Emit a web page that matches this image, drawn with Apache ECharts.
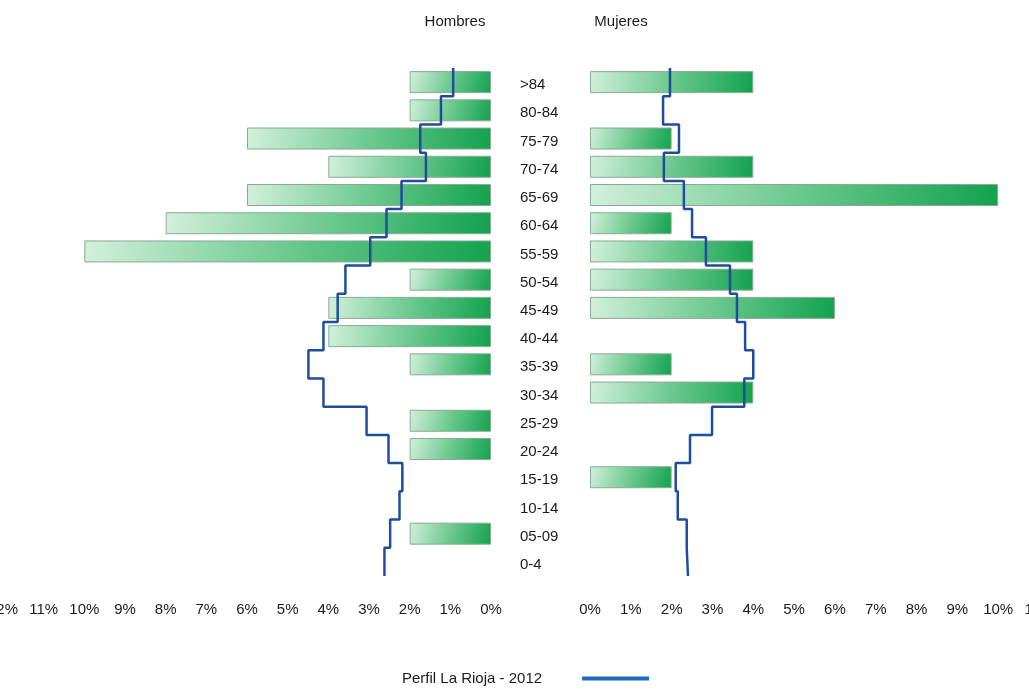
<!DOCTYPE html>
<html>
<head>
<meta charset="utf-8">
<script src="https://cdn.jsdelivr.net/npm/echarts@6/dist/echarts.min.js"></script>
<style>
html,body{margin:0;padding:0;background:#fff;}
#chart{width:1029px;height:691px;}
</style>
</head>
<body>
<div id="chart"></div>
<script>
const categories = ['>84','80-84','75-79','70-74','65-69','60-64','55-59','50-54','45-49','40-44','35-39','30-34','25-29','20-24','15-19','10-14','05-09','0-4'];
const hombres = [2,2,6,4,6,8,10,2,4,4,2,0,2,2,0,0,2,0];
const mujeres = [4,0,2,4,10,2,4,4,6,0,2,4,0,0,2,0,0,0];
const perfilHombres = [0.93,1.23,1.74,1.6,2.2,2.57,2.97,3.58,3.77,4.12,4.49,4.12,3.06,2.52,2.18,2.25,2.48,2.62];
const perfilMujeres = [1.96,1.79,2.18,1.81,2.3,2.5,2.84,3.43,3.6,3.8,4.0,3.78,2.99,2.45,2.1,2.15,2.37,2.4];
const leftTicksMax = 12;
const rightTicksMax = 11;
const perfilName = 'Perfil La Rioja - 2012';

const FONT = '"Liberation Sans", Arial, sans-serif';

function stepPoints(vals){
  const pts = [];
  vals.forEach((v,i)=>{ pts.push([v, i-0.5]); pts.push([v, i+0.5]); });
  return pts;
}
function barData(vals){ return vals.map(v => v === 0 ? null : v); }

const barColor = new echarts.graphic.LinearGradient(0,0,1,1,[
  {offset:0,color:'#d2f0dc'},
  {offset:0.5,color:'#6cc98f'},
  {offset:1,color:'#12a24e'}
]);
const barStyle = {color: barColor, borderColor:'#8aab92', borderWidth:1};
const lineStyle = {color:'#1f4d9e', width:2.5};

const chart = echarts.init(document.getElementById('chart'), null, {renderer:'canvas'});
chart.setOption({
  animation:false,
  backgroundColor:'#ffffff',
  textStyle:{fontFamily:FONT},
  title:[
    {text:'Hombres', left:450, top:9, textAlign:'center', textStyle:{fontFamily:FONT, fontSize:15, fontWeight:'normal', color:'#1a1a1a'}},
    {text:'Mujeres', left:616, top:9, textAlign:'center', textStyle:{fontFamily:FONT, fontSize:15, fontWeight:'normal', color:'#1a1a1a'}}
  ],
  legend:{
    left:397, top:666,
    align:'right',
    itemWidth:67, itemHeight:4,
    data:[{name:perfilName, icon:'rect', itemStyle:{color:'#1a6bc4'}}],
    textStyle:{fontFamily:FONT, fontSize:15, color:'#1a1a1a', padding:[0,35,0,0]}
  },
  grid:[
    {left:3, width:488, top:68, height:508, outerBoundsMode:'none', containLabel:false},
    {left:590, width:449, top:68, height:508, outerBoundsMode:'none', containLabel:false}
  ],
  xAxis:[
    {gridIndex:0, type:'value', inverse:true, min:0, max:leftTicksMax, interval:1,
     axisLine:{show:false}, axisTick:{show:false}, splitLine:{show:false},
     axisLabel:{margin:26, fontFamily:FONT, fontSize:15, color:'#1a1a1a', formatter:v=>v+'%', showMaxLabel:true, hideOverlap:false}},
    {gridIndex:1, type:'value', min:0, max:rightTicksMax, interval:1,
     axisLine:{show:false}, axisTick:{show:false}, splitLine:{show:false},
     axisLabel:{margin:26, fontFamily:FONT, fontSize:15, color:'#1a1a1a', formatter:v=>v+'%', showMaxLabel:true, hideOverlap:false}}
  ],
  yAxis:[
    {gridIndex:0, type:'category', data:categories, inverse:true,
     axisLine:{show:false}, axisTick:{show:false}, axisLabel:{show:false}},
    {gridIndex:1, type:'category', data:categories, inverse:true, position:'left',
     axisLine:{show:false}, axisTick:{show:false},
     axisLabel:{margin:70, align:'left', verticalAlign:'top', lineHeight:6, fontFamily:FONT, fontSize:15, color:'#1a1a1a'}},
    {gridIndex:0, type:'value', min:-0.5, max:categories.length-0.5, inverse:true, show:false},
    {gridIndex:1, type:'value', min:-0.5, max:categories.length-0.5, inverse:true, show:false}
  ],
  series:[
    {name:'Hombres', type:'bar', xAxisIndex:0, yAxisIndex:0, data:barData(hombres), barWidth:22, itemStyle:barStyle},
    {name:'Mujeres', type:'bar', xAxisIndex:1, yAxisIndex:1, data:barData(mujeres), barWidth:22, itemStyle:barStyle},
    {name:perfilName, type:'line', xAxisIndex:0, yAxisIndex:2, data:stepPoints(perfilHombres), symbol:'none', lineStyle:lineStyle, itemStyle:{color:'#1a6bc4'}},
    {name:perfilName, type:'line', xAxisIndex:1, yAxisIndex:3, data:stepPoints(perfilMujeres), symbol:'none', lineStyle:lineStyle, itemStyle:{color:'#1a6bc4'}}
  ]
});
</script>
</body>
</html>
